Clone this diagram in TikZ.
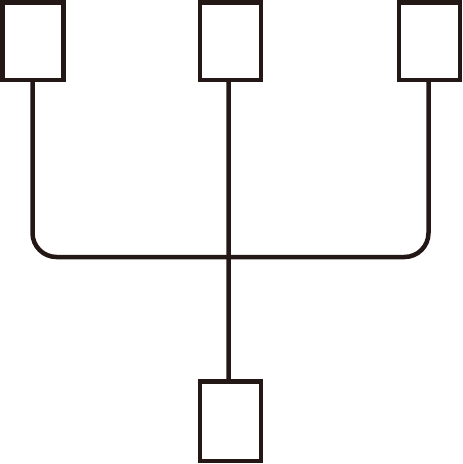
\documentclass[tikz,border=0pt]{standalone}
\definecolor{ink}{RGB}{35,24,21}
\begin{document}
\begin{tikzpicture}[x=1pt,y=1pt,
  box/.style={draw=ink,line width=4.5pt,minimum width=61pt,minimum height=77.5pt,inner sep=0pt,fill=white},
  link/.style={draw=ink,line width=4.5pt}]
\useasboundingbox (0,0) rectangle (463,-464);
\node[box] (l) at (32.8,-41) {};
\node[box] (m) at (230.6,-41) {};
\node[box] (r) at (429.7,-41) {};
\node[box,minimum height=79.5pt] (b) at (230.5,-421) {};
\coordinate (j) at (0,-257);
\draw[link,rounded corners=24pt] ([xshift=-0.3pt]l.south) -- ([xshift=-0.3pt]l.south |- j) -- ([xshift=-1.2pt]r.south |- j) -- ([xshift=-1.2pt]r.south);
\draw[link] ([xshift=-2pt,yshift=4pt]m.south) -- ([xshift=-2pt]b.north);
\end{tikzpicture}
\end{document}
